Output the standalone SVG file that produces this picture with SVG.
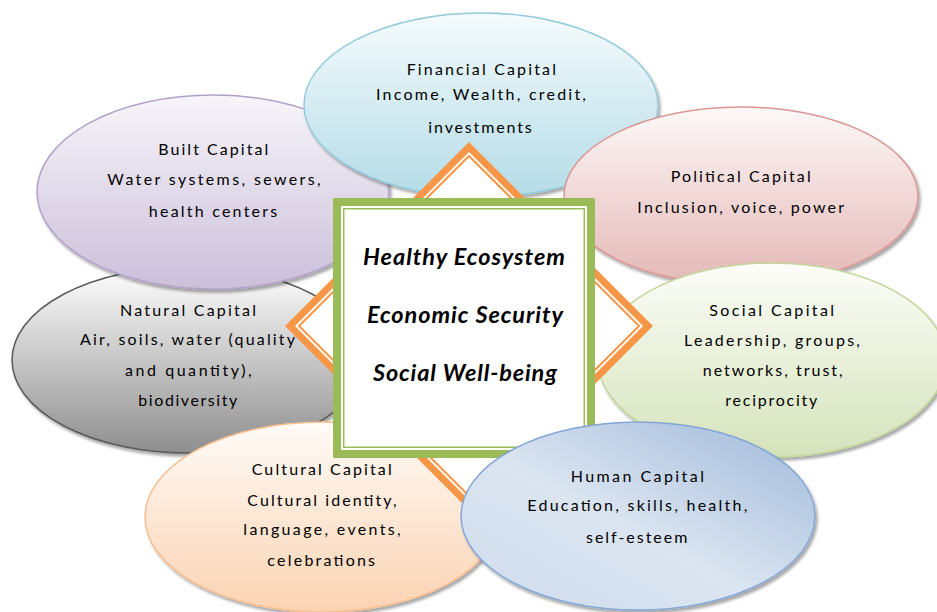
<svg xmlns="http://www.w3.org/2000/svg" width="937" height="612" viewBox="0 0 937 612">
<style>
.lbl{font-family:Lato,"Liberation Sans",sans-serif;font-size:16px;fill:#000;text-anchor:middle}
.ctr{font-family:Lato,"Liberation Sans",sans-serif;font-size:23.5px;font-weight:bold;font-style:italic;fill:#000;text-anchor:middle}
.ell{filter:url(#sh);stroke-width:1.5}
</style>
<defs>
<filter id="sh" x="-10%" y="-10%" width="125%" height="130%">
<feGaussianBlur in="SourceAlpha" stdDeviation="1.5"/>
<feOffset dx="2" dy="3" result="o"/>
<feComponentTransfer><feFuncA type="linear" slope="0.35"/></feComponentTransfer>
<feMerge><feMergeNode/><feMergeNode in="SourceGraphic"/></feMerge>
</filter>
<linearGradient id="gFin" x1="0" y1="0" x2="0" y2="1"><stop offset="0" stop-color="#f5fbfd"/><stop offset="1" stop-color="#b4dce7"/></linearGradient>
<linearGradient id="gBuilt" x1="0" y1="0" x2="0" y2="1"><stop offset="0" stop-color="#f7f5fa"/><stop offset="1" stop-color="#cbbfda"/></linearGradient>
<linearGradient id="gPol" x1="0" y1="0" x2="0" y2="1"><stop offset="0" stop-color="#fdf8f8"/><stop offset="1" stop-color="#e4b8b6"/></linearGradient>
<linearGradient id="gSoc" x1="0" y1="0" x2="0" y2="1"><stop offset="0" stop-color="#fcfdf9"/><stop offset="1" stop-color="#d5e3bb"/></linearGradient>
<linearGradient id="gNat" x1="0" y1="0" x2="0" y2="1"><stop offset="0" stop-color="#ffffff"/><stop offset="1" stop-color="#8e8e8e"/></linearGradient>
<linearGradient id="gCul" x1="0" y1="0" x2="0" y2="1"><stop offset="0" stop-color="#fffbf8"/><stop offset="1" stop-color="#fbd3b2"/></linearGradient>
<linearGradient id="gHum" x1="1" y1="0" x2="0" y2="1"><stop offset="0" stop-color="#9fb8da"/><stop offset="0.55" stop-color="#dbe5f1"/><stop offset="1" stop-color="#cfdbed"/></linearGradient>
</defs>

<g id="natural">
<ellipse class="ell" cx="188" cy="360" rx="176" ry="93" fill="url(#gNat)" stroke="#5a5a5a"/>
<text class="lbl" x="188" y="316" textLength="136">Natural Capital</text>
<text class="lbl" x="187.5" y="345" textLength="215">Air, soils, water (quality</text>
<text class="lbl" x="188.3" y="376" textLength="126.7">and quantity),</text>
<text class="lbl" x="187.8" y="406" textLength="99">biodiversity</text>
</g>

<g id="built">
<ellipse class="ell" cx="213" cy="192" rx="176" ry="97" fill="url(#gBuilt)" stroke="#b2a1c7"/>
<text class="lbl" x="213.3" y="155" textLength="110">Built Capital</text>
<text class="lbl" x="214" y="185" textLength="213.3">Water systems, sewers,</text>
<text class="lbl" x="213" y="217" textLength="128.3">health centers</text>
</g>

<g id="financial">
<ellipse class="ell" cx="481" cy="105" rx="177" ry="92" fill="url(#gFin)" stroke="#92cbdb"/>
<text class="lbl" x="481.3" y="75" textLength="149.3">Financial Capital</text>
<text class="lbl" x="481" y="100" textLength="210">Income, Wealth, credit,</text>
<text class="lbl" x="480" y="133" textLength="103.3">investments</text>
</g>

<g id="political">
<ellipse class="ell" cx="741" cy="196" rx="177" ry="89" fill="url(#gPol)" stroke="#d99694"/>
<text class="lbl" x="740.7" y="182" textLength="140">Political Capital</text>
<text class="lbl" x="740.7" y="213" textLength="206.7">Inclusion, voice, power</text>
</g>

<g id="social">
<ellipse class="ell" cx="772" cy="360" rx="174" ry="97" fill="url(#gSoc)" stroke="#c3d69b"/>
<text class="lbl" x="771.7" y="316" textLength="124.7">Social Capital</text>
<text class="lbl" x="772" y="346" textLength="176">Leadership, groups,</text>
<text class="lbl" x="772.7" y="376" textLength="140">networks, trust,</text>
<text class="lbl" x="771.3" y="406" textLength="92">reciprocity</text>
</g>

<g id="cultural">
<ellipse class="ell" cx="322" cy="517" rx="177" ry="95" fill="url(#gCul)" stroke="#fabf8f"/>
<text class="lbl" x="321.7" y="475" textLength="140">Cultural Capital</text>
<text class="lbl" x="322" y="506" textLength="149.3">Cultural identity,</text>
<text class="lbl" x="322" y="535" textLength="157.3">language, events,</text>
<text class="lbl" x="321.2" y="566" textLength="107.7">celebrations</text>
</g>

<g id="diamond">
<polygon points="469,147 648,326 469,505 290,326" fill="#fff" stroke="#f79646" stroke-width="7" stroke-linejoin="miter"/>
<polygon points="469,156 639,326 469,496 299,326" fill="none" stroke="#f79646" stroke-width="2"/>
</g>

<g id="center">
<rect x="337" y="202" width="254" height="252" fill="#fff" stroke="#9bbb59" stroke-width="8"/>
<rect x="343.75" y="208.75" width="240.5" height="238.5" fill="none" stroke="#9bbb59" stroke-width="1.5"/>
<text class="ctr" x="464" y="265" textLength="202">Healthy Ecosystem</text>
<text class="ctr" x="465" y="323" textLength="196">Economic Security</text>
<text class="ctr" x="465" y="381" textLength="184">Social Well-being</text>
</g>

<g id="human">
<ellipse class="ell" cx="638" cy="516" rx="177" ry="94" fill="url(#gHum)" stroke="#84a7d6"/>
<text class="lbl" x="637.3" y="482" textLength="133.3">Human Capital</text>
<text class="lbl" x="637.3" y="511" textLength="220">Education, skills, health,</text>
<text class="lbl" x="636.7" y="543" textLength="101.3">self-esteem</text>
</g>
</svg>
